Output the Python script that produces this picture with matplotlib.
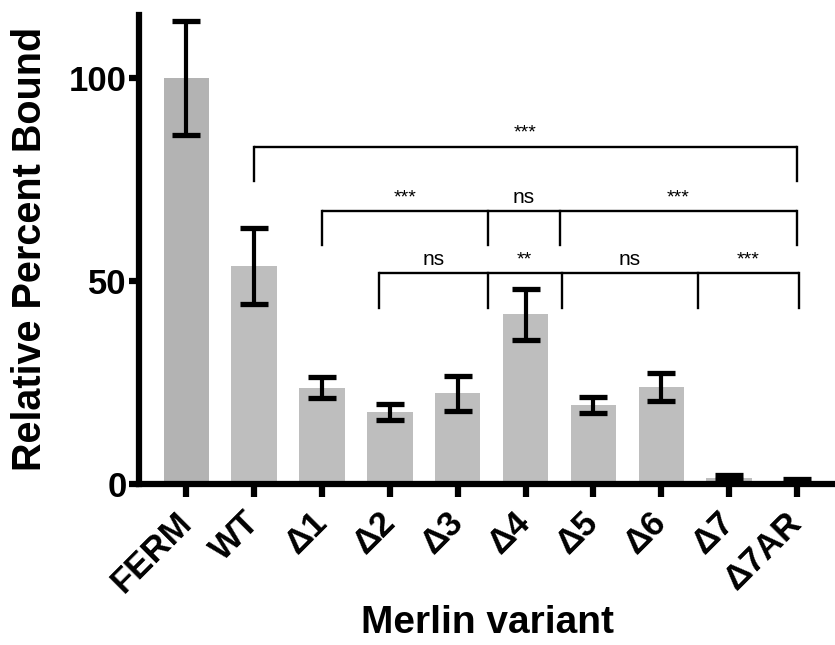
import matplotlib.pyplot as plt

plt.rcParams['font.family'] = ['Liberation Sans', 'DejaVu Sans']

variants = ['FERM', 'WT', 'Δ1', 'Δ2', 'Δ3', 'Δ4', 'Δ5', 'Δ6', 'Δ7', 'Δ7AR']
bound = [100, 53.6, 23.7, 17.7, 22.3, 41.7, 19.4, 23.8, 1.5, 0.6]
err = [14.0, 9.4, 2.7, 1.9, 4.3, 6.2, 2.0, 3.5, 0.6, 0.5]

# significance brackets: (y of bar, list of leg x positions, labels between legs)
brackets = [
    (83.0, [1, 9], ['***']),
    (67.2, [2, 4.44, 5.51, 9], ['***', 'ns', '***']),
    (51.8, [2.84, 4.44, 5.53, 7.54, 9.03], ['ns', '**', 'ns', '***']),
]
leg_drop = 8.5

fig = plt.figure(figsize=(8.35, 6.45), dpi=100)
ax = fig.add_axes([0.167, 0.25, 0.833, 0.727])

x = list(range(len(variants)))
colors = ['#b3b3b3'] + ['#bebebe'] * (len(variants) - 1)
ax.bar(x, bound, width=0.67, color=colors, zorder=1)
eb = ax.errorbar(x, bound, yerr=err, fmt='none', ecolor='black', elinewidth=3,
                 capsize=10, capthick=3.8, zorder=3)
for cap in eb[1]:
    cap.set_solid_capstyle('round')

for y, legs, labels in brackets:
    ax.plot([legs[0], legs[-1]], [y, y], color='black', lw=1.7, zorder=2,
            solid_capstyle='butt')
    for lx in legs:
        ax.plot([lx, lx], [y, y - leg_drop], color='black', lw=1.7, zorder=2)
    for i, lab in enumerate(labels):
        mx = (legs[i] + legs[i + 1]) / 2
        if lab == 'ns':
            ax.text(mx, y + 1.0, lab, ha='center', va='bottom', fontsize=15)
        else:
            ax.text(mx, y + 1.2, lab, ha='center', va='bottom', fontsize=14)

ax.set_xlim(-0.69, 9.56)
ax.set_ylim(0, 115.5)
ax.set_yticks([0, 50, 100])
ax.set_xticks(x)
ax.set_xticklabels(variants, rotation=45, ha='right', va='center',
                   rotation_mode='anchor', fontsize=25, fontweight='bold')
ax.tick_params(axis='y', labelsize=25, width=4.5, length=7, pad=2)
ax.tick_params(axis='x', width=4.5, length=9, pad=15)
for lab in ax.get_yticklabels():
    lab.set_fontweight('bold')

ax.spines['top'].set_visible(False)
ax.spines['right'].set_visible(False)
ax.spines['left'].set_linewidth(4.5)
ax.spines['bottom'].set_linewidth(4.5)

ax.set_ylabel('Relative Percent Bound', fontsize=28.5, fontweight='bold', va='center')
ax.yaxis.set_label_coords(-0.158, 0.5)
ax.set_xlabel('Merlin variant', fontsize=28, fontweight='bold', va='baseline')
ax.xaxis.set_label_coords(0.5, -0.318)

fig.savefig('out.png', dpi=100)
